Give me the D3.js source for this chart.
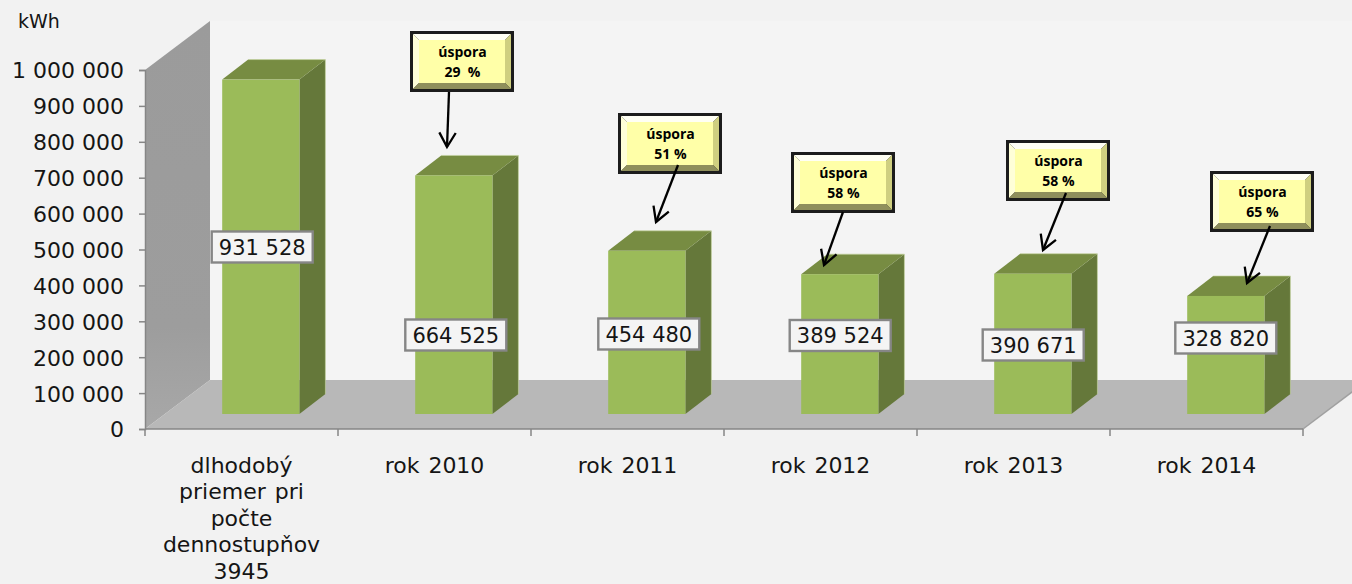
<!DOCTYPE html>
<html><head><meta charset="utf-8">
<script src="https://cdn.jsdelivr.net/npm/d3@7"></script>
<style>
html,body{margin:0;padding:0;background:#f2f2f2;overflow:hidden}
svg{display:block}
text{font-family:"DejaVu Sans",Verdana,sans-serif;fill:#151515}
</style></head><body>
<svg id="c" width="1352" height="584"></svg>
<script>
const categories = ["dlhodobý priemer pri počte dennostupňov 3945","rok 2010","rok 2011","rok 2012","rok 2013","rok 2014"];
const categoryLines = [["dlhodobý","priemer pri","počte","dennostupňov","3945"],["rok 2010"],["rok 2011"],["rok 2012"],["rok 2013"],["rok 2014"]];
const values = [931528,664525,454480,389524,390671,328820];
const valueLabels = ["931 528","664 525","454 480","389 524","390 671","328 820"];
const savingsLabels = [null,"29  %","51 %","58 %","58 %","65 %"];
const yTicks = [0,100000,200000,300000,400000,500000,600000,700000,800000,900000,1000000];
const unit = "kWh";

// layout (separate from data)
const W=1352,H=584,L=145,R=1303,Y0=429,Y1=70;
const wallDx=65,wallDy=-49,barDx=26,barDy=-20,barBaseLift=15;
const labelY=[247,335,334,335.5,345,338];           // centre of value label
const labelDx=[1.4,2,2,0.4,0.4,0];                  // offset from bar centre
const boxXY=[null,[410,31],[618,113],[791,152],[1006,140],[1210,171]];
const boxSize=[104,61];
const arrows=[null,[449,92,447,147],[678,165,656,222],[843,212,824,265],[1066,193,1043,250],[1270,226,1247,283]];

const x=d3.scaleBand().domain(categories).range([L,R]);
const y=d3.scaleLinear().domain([0,1000000]).range([Y0,Y1]);
const svg=d3.select("#c");
const defs=svg.append("defs");
const wg=defs.append("linearGradient").attr("id","wall").attr("x1",0).attr("y1",0).attr("x2",0).attr("y2",1);
wg.append("stop").attr("offset",0).attr("stop-color","#9b9b9b");
wg.append("stop").attr("offset",.75).attr("stop-color","#9d9d9d");
wg.append("stop").attr("offset",1).attr("stop-color","#a8a8a8");
const blur=defs.append("filter").attr("id","soft").attr("x","-5%").attr("y","-5%").attr("width","110%").attr("height","110%");
blur.append("feGaussianBlur").attr("stdDeviation",0.6);
const poly=p=>p.map(d=>d.join(",")).join(" ");

// back wall
svg.append("polygon").attr("points",poly([[L+wallDx,Y1+wallDy],[W,Y1+wallDy],[W,Y0+wallDy],[L+wallDx,Y0+wallDy]])).attr("fill","#f4f4f4");
// side wall
svg.append("polygon").attr("points",poly([[L,Y1],[L+wallDx,Y1+wallDy],[L+wallDx,Y0+wallDy],[L,Y0]])).attr("fill","url(#wall)");
// floor
svg.append("polygon").attr("points",poly([[L,Y0],[L+wallDx,Y0+wallDy],[R+wallDx,Y0+wallDy],[R,Y0]])).attr("fill","#b8b8b8");
svg.append("line").attr("x1",R).attr("y1",Y0).attr("x2",R+wallDx).attr("y2",Y0+wallDy).attr("stroke","#a0a0a0").attr("stroke-width",1.5);

// axes
const yAxis=d3.axisLeft(y).tickValues(yTicks).tickSize(6).tickPadding(15).tickFormat(d=>d3.format(",")(d).replace(/,/g," "));
const gy=svg.append("g").attr("transform",`translate(${L},0)`).call(yAxis);
gy.selectAll("text").attr("font-size",22).style("font-family",'"DejaVu Sans"').attr("fill","#151515").attr("dy","0.36em");
const gridPos=[L,...categories.map(c=>x(c)+x.bandwidth())];
const gx=svg.append("g").attr("transform",`translate(0,${Y0})`);
gx.selectAll("line.t").data(gridPos).join("line").attr("class","t").attr("x1",d=>d).attr("x2",d=>d).attr("y1",0).attr("y2",7).attr("stroke","#868686").attr("stroke-width",1.5);
gx.append("line").attr("x1",L).attr("x2",R).attr("stroke","#868686").attr("stroke-width",1.5);
gy.selectAll("path").attr("stroke","#868686").attr("stroke-width",1.5);
gy.selectAll("line").attr("stroke","#868686").attr("stroke-width",1.5);

// bars
const bw=x.bandwidth()*0.4;
const base=y(0)-barBaseLift;
const h=v=>y(0)-y(v);
const bx=(i)=>x(categories[i])+x.bandwidth()*0.4;
const bars=svg.append("g").selectAll("g").data(values).join("g");
bars.append("polygon").attr("fill","#65783a").attr("points",(d,i)=>poly([[bx(i)+bw,base],[bx(i)+bw+barDx,base+barDy],[bx(i)+bw+barDx,base-h(d)+barDy],[bx(i)+bw,base-h(d)]]));
bars.append("polygon").attr("fill","#778c42").attr("points",(d,i)=>poly([[bx(i),base-h(d)],[bx(i)+barDx,base-h(d)+barDy],[bx(i)+bw+barDx,base-h(d)+barDy],[bx(i)+bw,base-h(d)]]));
bars.append("rect").attr("fill","#9bbb59").attr("x",(d,i)=>bx(i)).attr("y",d=>base-h(d)).attr("width",bw).attr("height",d=>h(d));
bars.append("polyline").attr("fill","none").attr("stroke","#c4d4a0").attr("stroke-opacity",.65).attr("stroke-width",1)
  .attr("points",(d,i)=>poly([[bx(i)+barDx,base-h(d)+barDy],[bx(i)+bw+barDx,base-h(d)+barDy],[bx(i)+bw+barDx,base+barDy]]));

// value labels
const lab=svg.append("g").selectAll("g").data(valueLabels).join("g")
 .attr("transform",(d,i)=>`translate(${bx(i)+bw/2+labelDx[i]},${labelY[i]})`);
lab.append("rect").attr("x",-50.5).attr("y",-15.5).attr("width",101).attr("height",31).attr("fill","#f4f4f4").attr("stroke","#868686").attr("stroke-width",2.4);
lab.append("text").attr("text-anchor","middle").attr("dy","0.37em").attr("font-size",21).text(d=>d);

// category labels
const cl=svg.append("g").selectAll("text").data(categoryLines).join("text").attr("text-anchor","middle").attr("font-size",22).attr("word-spacing",2)
 .attr("transform",(d,i)=>`translate(${x(categories[i])+x.bandwidth()/2},472.6)`);
cl.selectAll("tspan").data(d=>d).join("tspan").attr("x",0).attr("y",(d,i)=>i*26.5).text(d=>d);

svg.append("text").attr("x",18).attr("y",28).attr("font-size",19).text(unit);

// callouts
const [bwd,bh]=boxSize, bev=6;
savingsLabels.forEach((s,i)=>{
  if(!s) return;
  const [bxx,byy]=boxXY[i];
  const g=svg.append("g").attr("transform",`translate(${bxx},${byy})`);
  g.append("rect").attr("x",0).attr("y",0).attr("width",bwd).attr("height",bh).attr("fill","#1c1c1c");
  const ix0=3,ix1=bwd-3,iy0=3,iy1=bh-3;
  const j0=ix0+bev,j1=ix1-bev,k0=iy0+bev,k1=iy1-bev;
  const clipId="cb"+i;
  g.append("clipPath").attr("id",clipId).append("rect").attr("x",ix0).attr("y",iy0).attr("width",ix1-ix0).attr("height",iy1-iy0);
  const inner=g.append("g").attr("clip-path",`url(#${clipId})`).append("g").attr("filter","url(#soft)");
  inner.append("polygon").attr("fill","#fffff4").attr("points",poly([[ix0-3,iy0-3],[ix1+3,iy0-3],[j1,k0],[j0,k0]]));
  inner.append("polygon").attr("fill","#ffffd8").attr("points",poly([[ix0-3,iy0-3],[j0,k0],[j0,k1],[ix0-3,iy1+3]]));
  inner.append("polygon").attr("fill","#cfcf80").attr("points",poly([[ix1+3,iy0-3],[j1,k0],[j1,k1],[ix1+3,iy1+3]]));
  inner.append("polygon").attr("fill","#8f8f5c").attr("points",poly([[ix0-3,iy1+3],[j0,k1],[j1,k1],[ix1+3,iy1+3]]));
  inner.append("rect").attr("x",j0).attr("y",k0).attr("width",j1-j0).attr("height",k1-k0).attr("fill","#ffffa8");
  const t=g.append("text").attr("text-anchor","middle").attr("font-size",14).attr("font-weight",700).style("font-family",'"Open Sans"').style("fill","#000");
  t.append("tspan").attr("x",bwd/2+.5).attr("y",26).text("úspora");
  t.append("tspan").attr("x",bwd/2+.5).attr("y",46).style("white-space","pre").text(s);
});
arrows.forEach(ar=>{
  if(!ar) return;
  const [x1,y1,x2,y2]=ar;
  const ang=Math.atan2(y2-y1,x2-x1),len=16.5,sp=0.52;
  const g=svg.append("g").attr("stroke","#000").attr("stroke-width",2.3).attr("fill","none");
  g.append("line").attr("x1",x1).attr("y1",y1).attr("x2",x2).attr("y2",y2);
  g.append("polyline").attr("points",poly([[x2-len*Math.cos(ang-sp),y2-len*Math.sin(ang-sp)],[x2,y2],[x2-len*Math.cos(ang+sp),y2-len*Math.sin(ang+sp)]]));
});
</script>
</body></html>
